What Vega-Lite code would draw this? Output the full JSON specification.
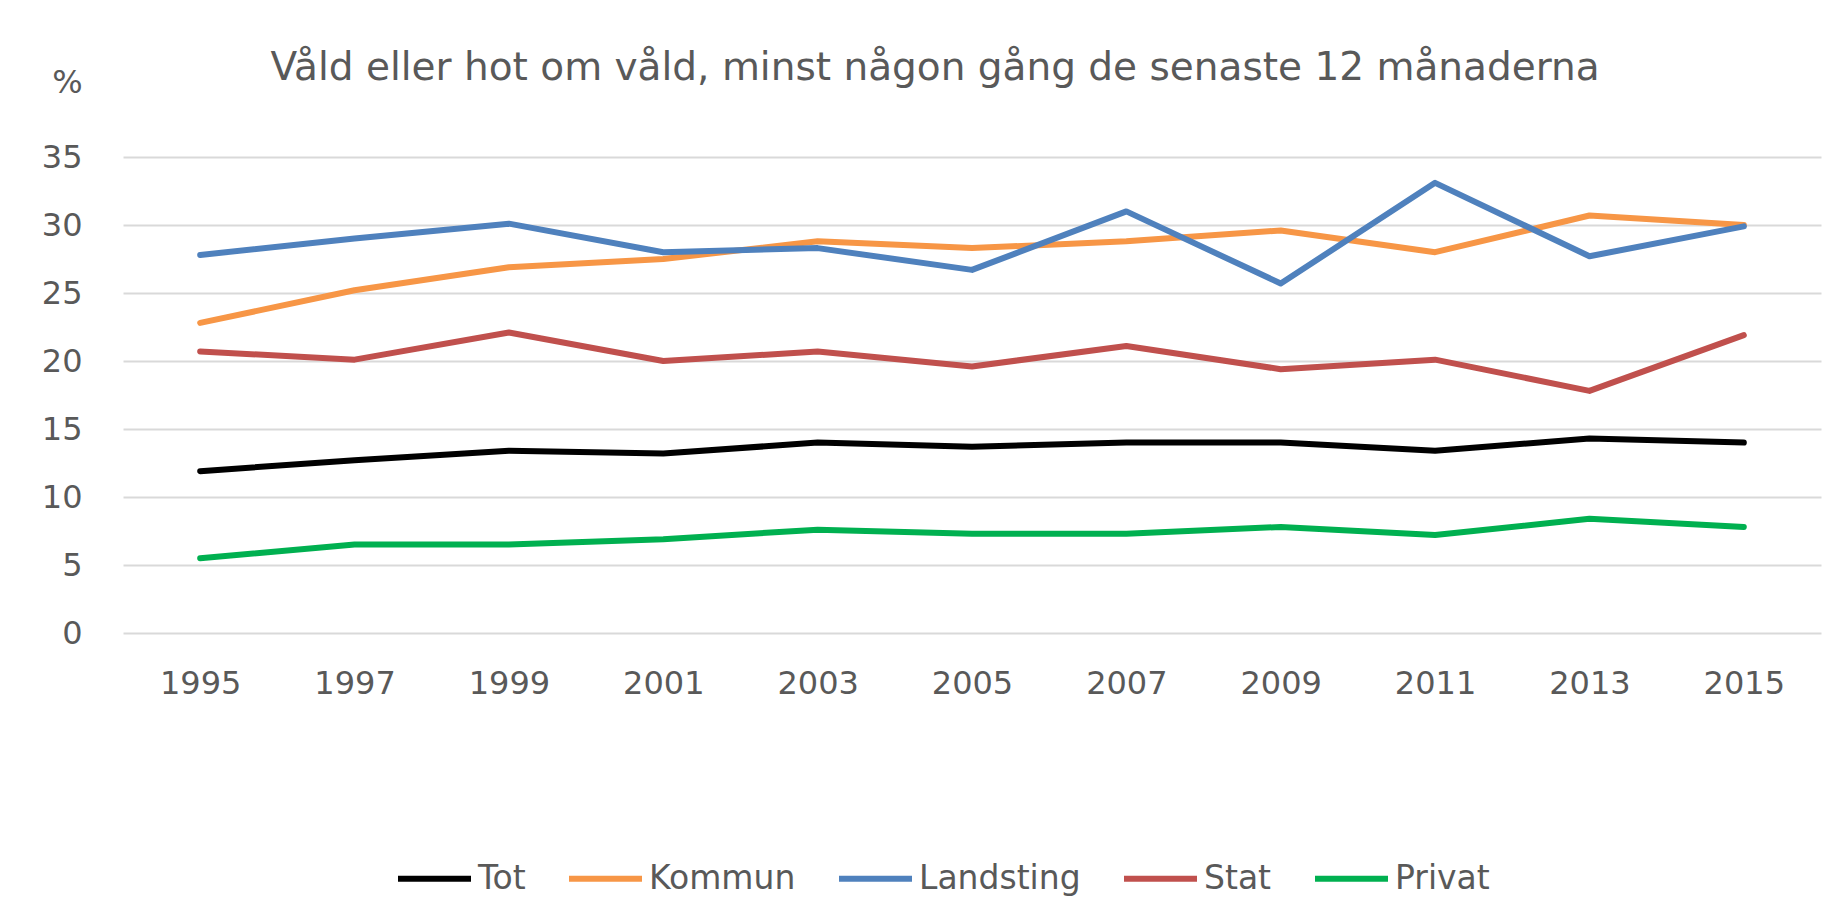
{
  "$schema": "https://vega.github.io/schema/vega-lite/v6.json",
  "width": 1698,
  "height": 476,
  "autosize": {"type": "none"},
  "padding": {"left": 123, "top": 157, "right": 18, "bottom": 291},
  "background": "white",
  "title": {
    "text": "Våld eller hot om våld, minst någon gång de senaste 12 månaderna",
    "font": "DejaVu Sans",
    "fontSize": 39,
    "fontWeight": "normal",
    "color": "#595959",
    "anchor": "middle",
    "baseline": "alphabetic",
    "dx": -37,
    "offset": -53
  },
  "data": {
    "values": [
      {"year": "1995", "serie": "Tot", "value": 11.9},
      {"year": "1997", "serie": "Tot", "value": 12.7},
      {"year": "1999", "serie": "Tot", "value": 13.4},
      {"year": "2001", "serie": "Tot", "value": 13.2},
      {"year": "2003", "serie": "Tot", "value": 14.0},
      {"year": "2005", "serie": "Tot", "value": 13.7},
      {"year": "2007", "serie": "Tot", "value": 14.0},
      {"year": "2009", "serie": "Tot", "value": 14.0},
      {"year": "2011", "serie": "Tot", "value": 13.4},
      {"year": "2013", "serie": "Tot", "value": 14.3},
      {"year": "2015", "serie": "Tot", "value": 14.0},
      {"year": "1995", "serie": "Kommun", "value": 22.8},
      {"year": "1997", "serie": "Kommun", "value": 25.2},
      {"year": "1999", "serie": "Kommun", "value": 26.9},
      {"year": "2001", "serie": "Kommun", "value": 27.5},
      {"year": "2003", "serie": "Kommun", "value": 28.8},
      {"year": "2005", "serie": "Kommun", "value": 28.3},
      {"year": "2007", "serie": "Kommun", "value": 28.8},
      {"year": "2009", "serie": "Kommun", "value": 29.6},
      {"year": "2011", "serie": "Kommun", "value": 28.0},
      {"year": "2013", "serie": "Kommun", "value": 30.7},
      {"year": "2015", "serie": "Kommun", "value": 30.0},
      {"year": "1995", "serie": "Landsting", "value": 27.8},
      {"year": "1997", "serie": "Landsting", "value": 29.0},
      {"year": "1999", "serie": "Landsting", "value": 30.1},
      {"year": "2001", "serie": "Landsting", "value": 28.0},
      {"year": "2003", "serie": "Landsting", "value": 28.3},
      {"year": "2005", "serie": "Landsting", "value": 26.7},
      {"year": "2007", "serie": "Landsting", "value": 31.0},
      {"year": "2009", "serie": "Landsting", "value": 25.7},
      {"year": "2011", "serie": "Landsting", "value": 33.1},
      {"year": "2013", "serie": "Landsting", "value": 27.7},
      {"year": "2015", "serie": "Landsting", "value": 29.9},
      {"year": "1995", "serie": "Stat", "value": 20.7},
      {"year": "1997", "serie": "Stat", "value": 20.1},
      {"year": "1999", "serie": "Stat", "value": 22.1},
      {"year": "2001", "serie": "Stat", "value": 20.0},
      {"year": "2003", "serie": "Stat", "value": 20.7},
      {"year": "2005", "serie": "Stat", "value": 19.6},
      {"year": "2007", "serie": "Stat", "value": 21.1},
      {"year": "2009", "serie": "Stat", "value": 19.4},
      {"year": "2011", "serie": "Stat", "value": 20.1},
      {"year": "2013", "serie": "Stat", "value": 17.8},
      {"year": "2015", "serie": "Stat", "value": 21.9},
      {"year": "1995", "serie": "Privat", "value": 5.5},
      {"year": "1997", "serie": "Privat", "value": 6.5},
      {"year": "1999", "serie": "Privat", "value": 6.5},
      {"year": "2001", "serie": "Privat", "value": 6.9},
      {"year": "2003", "serie": "Privat", "value": 7.6},
      {"year": "2005", "serie": "Privat", "value": 7.3},
      {"year": "2007", "serie": "Privat", "value": 7.3},
      {"year": "2009", "serie": "Privat", "value": 7.8},
      {"year": "2011", "serie": "Privat", "value": 7.2},
      {"year": "2013", "serie": "Privat", "value": 8.4},
      {"year": "2015", "serie": "Privat", "value": 7.8}
    ]
  },
  "mark": {"type": "line", "strokeWidth": 6, "strokeJoin": "round", "strokeCap": "round"},
  "encoding": {
    "x": {
      "field": "year",
      "type": "ordinal",
      "scale": {"type": "point", "padding": 0.5},
      "axis": {
        "title": null,
        "labelAngle": 0,
        "labelFont": "DejaVu Sans",
        "labelFontSize": 32,
        "labelColor": "#595959",
        "labelPadding": 35,
        "ticks": false,
        "domain": false,
        "grid": false
      }
    },
    "y": {
      "field": "value",
      "type": "quantitative",
      "scale": {"domain": [0, 35], "nice": false},
      "axis": {
        "title": "%",
        "titleAngle": 0,
        "titleX": -56,
        "titleY": -75,
        "titleAlign": "center",
        "titleBaseline": "middle",
        "titleFont": "DejaVu Sans",
        "titleFontSize": 32,
        "titleFontWeight": "normal",
        "titleColor": "#595959",
        "values": [0, 5, 10, 15, 20, 25, 30, 35],
        "labelFont": "DejaVu Sans",
        "labelFontSize": 32,
        "labelColor": "#595959",
        "labelPadding": 41,
        "ticks": false,
        "domain": false,
        "grid": true,
        "gridColor": "#d9d9d9",
        "gridWidth": 2
      }
    },
    "color": {
      "field": "serie",
      "type": "nominal",
      "sort": ["Tot", "Kommun", "Landsting", "Stat", "Privat"],
      "scale": {
        "domain": ["Tot", "Kommun", "Landsting", "Stat", "Privat"],
        "range": ["#000000", "#F79646", "#4F81BD", "#C0504D", "#00B050"]
      },
      "legend": {
        "title": null,
        "orient": "none",
        "direction": "horizontal",
        "legendX": 272,
        "legendY": 682,
        "symbolType": "stroke",
        "symbolSize": 5329,
        "symbolStrokeWidth": 6,
        "labelFont": "DejaVu Sans",
        "labelFontSize": 33,
        "labelColor": "#595959",
        "labelOffset": 4,
        "columnPadding": 31,
        "labelLimit": 400
      }
    }
  },
  "config": {"view": {"stroke": null}}
}
